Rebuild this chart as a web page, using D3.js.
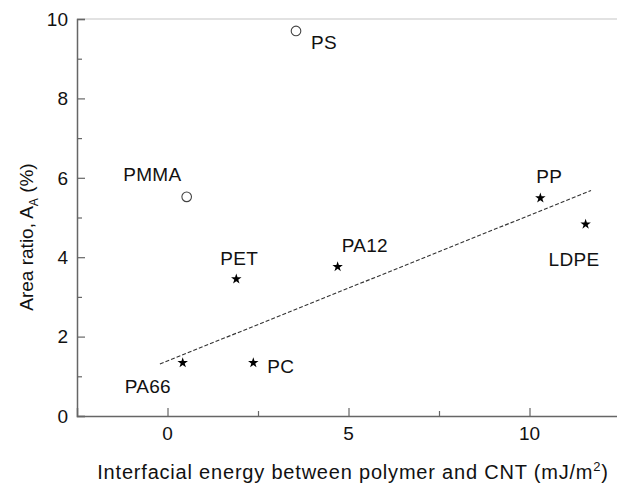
<!DOCTYPE html>
<html>
<head>
<meta charset="utf-8">
<script src="https://cdn.jsdelivr.net/npm/d3@7"></script>
<style>
  html, body { margin: 0; padding: 0; background: #fff; }
  svg { display: block; font-family: "Liberation Sans", Arial, Helvetica, sans-serif; }
</style>
</head>
<body>
<svg id="chart" width="617" height="483"></svg>
<script>
// Polymers and their measured values
const polymers = ["PS", "PMMA", "PP", "LDPE", "PA12", "PET", "PC", "PA66"];
const interfacialEnergy = [3.55, 0.53, 10.3, 11.55, 4.7, 1.9, 2.37, 0.42];
const areaRatio = [9.7, 5.52, 5.49, 4.83, 3.76, 3.45, 1.34, 1.34];
const markerType = ["circle", "circle", "star", "star", "star", "star", "star", "star"];

// Linear fit through the star points (dashed line)
const fitX = [-0.21, 11.7];
const fitY = [1.31, 5.68];

const xTicks = [0, 5, 10];
const xMinorTicks = [2.5, 7.5];
const yTicks = [0, 2, 4, 6, 8, 10];
const yMinorTicks = [1, 3, 5, 7, 9];

// Label placement relative to each point (pixels: text start, baseline)
const labelOffset = {
  PS: [15, 18], PMMA: [-63.5, -16], PP: [-4, -15], LDPE: [-37, 41.5],
  PA12: [4, -15], PET: [-16, -14], PC: [14, 10.6], PA66: [-58, 30]
};

const svg = d3.select("#chart");
const plotLeft = 77, plotTop = 19, plotBottom = 416, plotRight = 620;

const x = d3.scaleLinear().domain([-2.5, 12.5]).range([plotLeft, plotRight]);
const y = d3.scaleLinear().domain([0, 10]).range([plotBottom, plotTop]);

const axisColor = "#666";
const fontSize = 19;

// Light top frame line
svg.append("line")
  .attr("x1", plotLeft).attr("x2", plotRight)
  .attr("y1", plotTop).attr("y2", plotTop)
  .attr("stroke", "#d8d8d8").attr("stroke-width", 1.5);

// X axis (ticks point inward)
const gx = svg.append("g").attr("transform", `translate(0,${plotBottom})`);
gx.call(d3.axisTop(x).tickValues(xTicks).tickSize(8).tickFormat(""));
const gxMinor = gx.append("g").call(d3.axisTop(x).tickValues(xMinorTicks).tickSize(5).tickFormat(""));
gxMinor.select("path.domain").remove();
gx.selectAll("path.domain").attr("stroke", axisColor).attr("stroke-width", 1.5);
gx.selectAll(".tick line").attr("stroke", axisColor).attr("stroke-width", 1.2);

svg.append("g").selectAll("text").data(xTicks).join("text")
  .attr("x", d => x(d)).attr("y", 440)
  .attr("text-anchor", "middle")
  .attr("font-size", fontSize).attr("fill", "#111")
  .text(d => d);

// Y axis (ticks point inward)
const gy = svg.append("g").attr("transform", `translate(${plotLeft},0)`);
gy.call(d3.axisRight(y).tickValues(yTicks).tickSize(8).tickFormat(""));
const gyMinor = gy.append("g").call(d3.axisRight(y).tickValues(yMinorTicks).tickSize(5).tickFormat(""));
gyMinor.select("path.domain").remove();
gy.selectAll("path.domain").attr("stroke", axisColor).attr("stroke-width", 1.5);
gy.selectAll(".tick line").attr("stroke", axisColor).attr("stroke-width", 1.2);

svg.append("g").selectAll("text").data(yTicks).join("text")
  .attr("x", 68).attr("y", d => y(d))
  .attr("dy", "0.36em")
  .attr("text-anchor", "end")
  .attr("font-size", fontSize).attr("fill", "#111")
  .text(d => d);

// Dashed fit line
svg.append("path")
  .datum(d3.zip(fitX, fitY))
  .attr("d", d3.line().x(d => x(d[0])).y(d => y(d[1])))
  .attr("fill", "none")
  .attr("stroke", "#333")
  .attr("stroke-width", 1.1)
  .attr("stroke-dasharray", "4,2");

// Data points
const points = polymers.map((name, i) => ({
  name, xv: interfacialEnergy[i], yv: areaRatio[i], type: markerType[i]
}));

const starPath = d3.symbol().type(d3.symbolStar).size(34)();
svg.append("g").selectAll("path").data(points.filter(p => p.type === "star")).join("path")
  .attr("transform", d => `translate(${x(d.xv)},${y(d.yv)})`)
  .attr("d", starPath)
  .attr("fill", "#000");

svg.append("g").selectAll("circle").data(points.filter(p => p.type === "circle")).join("circle")
  .attr("cx", d => x(d.xv)).attr("cy", d => y(d.yv))
  .attr("r", 4.8)
  .attr("fill", "#fff")
  .attr("stroke", "#444").attr("stroke-width", 1.1);

// Point labels
svg.append("g").selectAll("text").data(points).join("text")
  .attr("x", d => x(d.xv) + labelOffset[d.name][0])
  .attr("y", d => y(d.yv) + labelOffset[d.name][1])
  .attr("font-size", fontSize).attr("fill", "#111")
  .attr("letter-spacing", 0.3)
  .text(d => d.name);

// Axis titles
const xt = svg.append("text")
  .attr("x", 353).attr("y", 479)
  .attr("text-anchor", "middle")
  .attr("font-size", 20).attr("fill", "#111")
  .attr("letter-spacing", 0.8);
xt.append("tspan").text("Interfacial energy between polymer and CNT (mJ/m");
xt.append("tspan").attr("font-size", 13).attr("dy", -8).text("2");
xt.append("tspan").attr("dy", 8).text(")");

const yt = svg.append("text")
  .attr("transform", "translate(32.5,237) rotate(-90)")
  .attr("text-anchor", "middle")
  .attr("font-size", fontSize).attr("fill", "#111");
yt.append("tspan").text("Area ratio, A");
yt.append("tspan").attr("font-size", 12).attr("dy", 5).text("A");
yt.append("tspan").attr("dy", -5).text(" (%)");
</script>
</body>
</html>
